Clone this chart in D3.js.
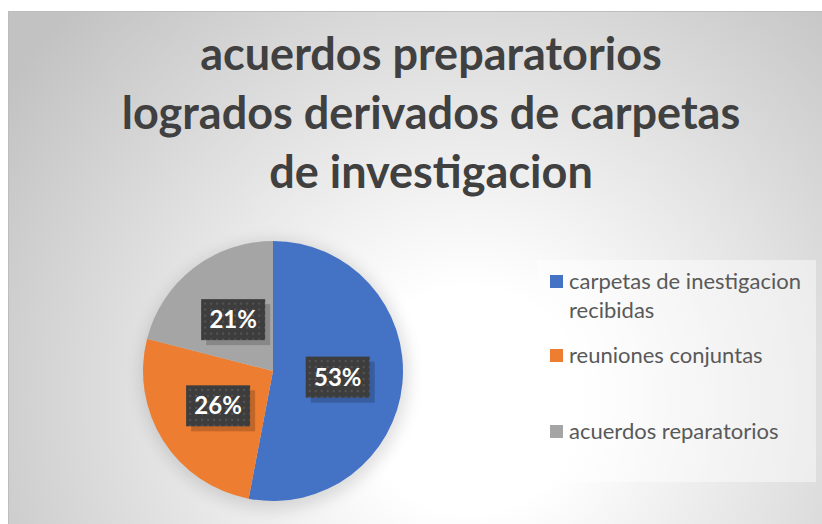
<!DOCTYPE html>
<html>
<head>
<meta charset="utf-8">
<script src="https://cdn.jsdelivr.net/npm/d3@7"></script>
<style>
  html, body { margin: 0; padding: 0; background: #fff; }
  svg { display: block; }
</style>
</head>
<body>
<div id="chart"></div>
<script>
// data
var titleLines = ["acuerdos preparatorios", "logrados derivados de carpetas", "de investigacion"];
var categories = ["carpetas de inestigacion recibidas", "reuniones conjuntas", "acuerdos reparatorios"];
var legendLines = [["carpetas de inestigacion", "recibidas"], ["reuniones conjuntas"], ["acuerdos reparatorios"]];
var values = [53, 26, 21];
var colors = ["#4472c4", "#ed7d31", "#a5a5a5"];

var W = 822, H = 524;
var svg = d3.select("#chart").append("svg").attr("width", W).attr("height", H);
var defs = svg.append("defs");

// background gradient
var bg = defs.append("radialGradient").attr("id", "bg")
  .attr("gradientUnits", "userSpaceOnUse")
  .attr("cx", 470).attr("cy", 400).attr("r", 560);
bg.append("stop").attr("offset", "0").attr("stop-color", "#ffffff");
bg.append("stop").attr("offset", "0.2").attr("stop-color", "#ffffff");
bg.append("stop").attr("offset", "1").attr("stop-color", "#c2c2c2");

// dotted texture for the data labels
var pat = defs.append("pattern").attr("id", "dots")
  .attr("patternUnits", "userSpaceOnUse").attr("width", 6).attr("height", 6);
pat.append("rect").attr("width", 6).attr("height", 6).attr("fill", "#3d3d3d");
pat.append("rect").attr("x", 1).attr("y", 1).attr("width", 2).attr("height", 2).attr("fill", "#555");

var blur = defs.append("filter").attr("id", "soft").attr("x", "-30%").attr("y", "-30%").attr("width", "160%").attr("height", "160%");
blur.append("feGaussianBlur").attr("stdDeviation", 8);

// chart frame
svg.append("rect").attr("x", 8).attr("y", 11).attr("width", W - 8).attr("height", H - 11)
  .attr("fill", "url(#bg)");
svg.append("line").attr("x1", 8).attr("x2", W).attr("y1", 11.5).attr("y2", 11.5).attr("stroke", "#bdbdbd");
svg.append("line").attr("x1", 8.5).attr("x2", 8.5).attr("y1", 11).attr("y2", H).attr("stroke", "#bdbdbd");

// title
var title = svg.append("text")
  .attr("text-anchor", "middle")
  .attr("font-family", "Lato, 'Open Sans', sans-serif")
  .attr("font-weight", "bold")
  .attr("font-size", 45)
  .attr("fill", "#404040");
title.selectAll("tspan").data(titleLines).enter().append("tspan")
  .attr("x", 431)
  .attr("y", function (d, i) { return 70 + i * 59; })
  .text(function (d) { return d; });

// pie
var cx = 273, cy = 371, R = 130;
var g = svg.append("g").attr("transform", "translate(" + cx + "," + cy + ")");

g.append("circle").attr("r", R + 4).attr("cx", 2).attr("cy", 4)
  .attr("fill", "#000").attr("opacity", 0.12).attr("filter", "url(#soft)");

var pie = d3.pie().sort(null).value(function (d) { return d; });
var arcs = pie(values);
var arc = d3.arc().innerRadius(0).outerRadius(R);
var labelArc = d3.arc().innerRadius(R * 0.5).outerRadius(R * 0.5);

g.selectAll("path.slice").data(arcs).enter().append("path")
  .attr("class", "slice")
  .attr("d", arc)
  .attr("fill", function (d, i) { return colors[i]; });

var total = d3.sum(values);
var lab = g.selectAll("g.lab").data(arcs).enter().append("g")
  .attr("class", "lab")
  .attr("transform", function (d) { return "translate(" + labelArc.centroid(d) + ")"; });

var bw = 64, bh = 41;
lab.append("rect").attr("x", -bw / 2 + 5).attr("y", -bh / 2 + 5).attr("width", bw).attr("height", bh)
  .attr("fill", "#000").attr("opacity", 0.18);
lab.append("rect").attr("x", -bw / 2).attr("y", -bh / 2).attr("width", bw).attr("height", bh)
  .attr("fill", "url(#dots)");
lab.append("text")
  .attr("text-anchor", "middle")
  .attr("dy", "0.36em")
  .attr("font-family", "Lato, 'Open Sans', sans-serif")
  .attr("font-weight", "bold")
  .attr("font-size", 24)
  .attr("fill", "#fff")
  .text(function (d) { return Math.round(d.data / total * 100) + "%"; });

// legend
svg.append("rect").attr("x", 537).attr("y", 260).attr("width", 279).attr("height", 222)
  .attr("fill", "#fff").attr("opacity", 0.45);

var legendY = [289, 363, 439];
var leg = svg.selectAll("g.leg").data(categories).enter().append("g")
  .attr("class", "leg")
  .attr("transform", function (d, i) { return "translate(550," + legendY[i] + ")"; });
leg.append("rect").attr("x", 0).attr("y", -14).attr("width", 13).attr("height", 13)
  .attr("fill", function (d, i) { return colors[i]; });
leg.append("text")
  .attr("font-family", "Lato, 'Open Sans', sans-serif")
  .attr("font-size", 22)
  .attr("fill", "#595959")
  .selectAll("tspan").data(function (d, i) { return legendLines[i]; }).enter().append("tspan")
  .attr("x", 19)
  .attr("y", function (d, j) { return j * 29; })
  .text(function (d) { return d; });
</script>
</body>
</html>
